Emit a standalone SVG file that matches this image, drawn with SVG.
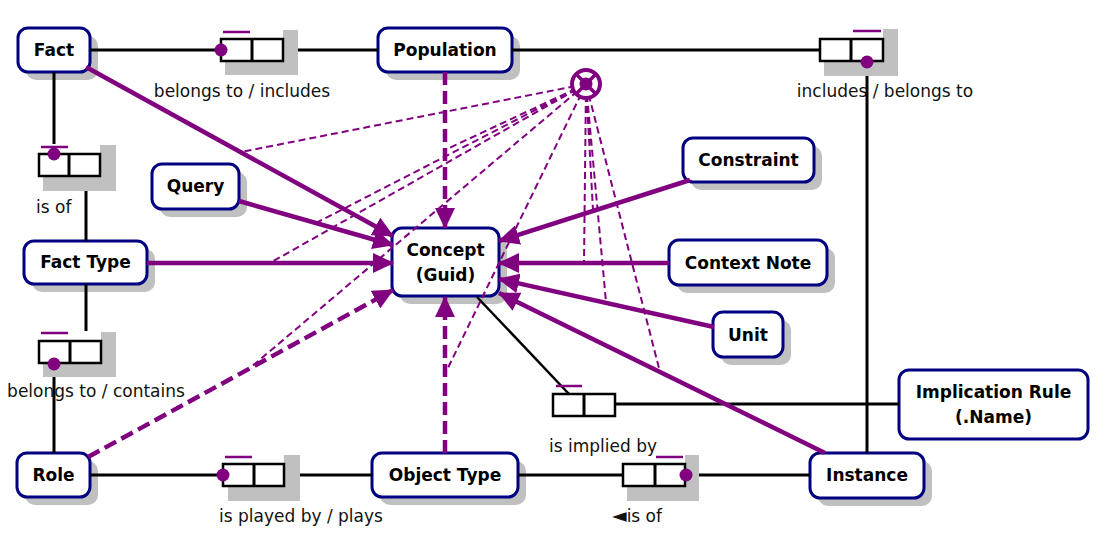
<svg xmlns="http://www.w3.org/2000/svg" width="1114" height="550" viewBox="0 0 1114 550">
<style>
.shadow{fill:#c0c0c0}
.cover{fill:#fff}
.node{fill:#fff;stroke:#000080;stroke-width:3}
.nt{font-family:"DejaVu Sans","Verdana",sans-serif;font-weight:bold;font-size:17px;fill:#000;text-anchor:middle}
.lbl{font-family:"DejaVu Sans","Verdana",sans-serif;font-size:17px;fill:#111}
.blk{stroke:#000;stroke-width:3;fill:none}
.sub{stroke:#800080;stroke-width:4.5;fill:none;marker-end:url(#arr)}
.subd{stroke:#800080;stroke-width:4.5;fill:none;stroke-dasharray:13 6;marker-end:url(#arr)}
.cl{stroke:#800080;stroke-width:2;fill:none;stroke-dasharray:7 4}
.rb{fill:#fff;stroke:#000;stroke-width:2.5}
.ub{stroke:#800080;stroke-width:2.5}
.dot{fill:#800080}
</style>
<defs>
<marker id="arr" markerUnits="userSpaceOnUse" markerWidth="22" markerHeight="20" refX="20" refY="10" orient="auto">
<path d="M0,0 L21,10 L0,20 z" fill="#800080"/>
</marker>
</defs>
<rect width="1114" height="550" fill="#fff"/>

<g id="fact"><rect class="shadow" x="26" y="36" width="72" height="44" rx="10"/><rect class="node" x="18" y="28" width="72" height="44" rx="10"/><text class="nt" x="54" y="56">Fact</text></g>
<g id="population"><rect class="shadow" x="386" y="36" width="134" height="44" rx="10"/><rect class="node" x="378" y="28" width="134" height="44" rx="10"/><text class="nt" x="445" y="56">Population</text></g>
<g id="query"><rect class="shadow" x="160" y="172" width="87" height="45" rx="10"/><rect class="node" x="152" y="164" width="87" height="45" rx="10"/><text class="nt" x="195.5" y="192">Query</text></g>
<g id="constraint"><rect class="shadow" x="691" y="146" width="131" height="44" rx="10"/><rect class="node" x="683" y="138" width="131" height="44" rx="10"/><text class="nt" x="748.5" y="166">Constraint</text></g>
<g id="fact-type"><rect class="shadow" x="32" y="249" width="123" height="43" rx="10"/><rect class="node" x="24" y="241" width="123" height="43" rx="10"/><text class="nt" x="85.5" y="268">Fact Type</text></g>
<g id="concept"><rect class="shadow" x="400" y="236" width="107" height="68" rx="10"/><rect class="node" x="392" y="228" width="107" height="68" rx="10"/><text class="nt" x="445.5" y="256">Concept</text><text class="nt" x="445.5" y="281">(Guid)</text></g>
<g id="context-note"><rect class="shadow" x="677" y="248" width="158" height="45" rx="10"/><rect class="node" x="669" y="240" width="158" height="45" rx="10"/><text class="nt" x="748" y="269">Context Note</text></g>
<g id="unit"><rect class="shadow" x="721" y="320" width="70" height="45" rx="10"/><rect class="node" x="713" y="312" width="70" height="45" rx="10"/><text class="nt" x="748" y="341">Unit</text></g>
<g id="implication-rule"><rect class="node" x="899" y="370" width="189" height="69" rx="10"/><text class="nt" x="993.5" y="398">Implication Rule</text><text class="nt" x="993.5" y="423">(.Name)</text></g>
<g id="role"><rect class="shadow" x="25" y="461" width="73" height="44" rx="10"/><rect class="node" x="17" y="453" width="73" height="44" rx="10"/><text class="nt" x="53.5" y="481">Role</text></g>
<g id="object-type"><rect class="shadow" x="380" y="461" width="146" height="44" rx="10"/><rect class="node" x="372" y="453" width="146" height="44" rx="10"/><text class="nt" x="445" y="481">Object Type</text></g>
<g id="instance"><rect class="shadow" x="818" y="461" width="114" height="45" rx="10"/><rect class="node" x="810" y="453" width="114" height="45" rx="10"/><text class="nt" x="867" y="481">Instance</text></g>

<g id="connectors">
<path class="blk" d="M90,50 H221 M283,50 H378 M512,50 H820 M867,62 V453 M54,72 V154 M86,176 V241 M86,284 V341 M54,364 V453 M90,475 H223 M284,475 H372 M518,475 H623 M686,475 H810 M615,404 H899"/>
<path d="M477,297 L569,394" stroke="#000" stroke-width="2.5" fill="none"/>
<path class="sub" d="M86,67 L393,236"/>
<path class="sub" d="M239,201 L393,245"/>
<path class="sub" d="M147,263 L393,263"/>
<path class="sub" d="M690,180 L499,241"/>
<path class="sub" d="M669,263 L499,263"/>
<path class="sub" d="M714,327 L499,279"/>
<path class="sub" d="M825,453 L499,293"/>
<path class="subd" d="M445,72 L445,228"/>
<path class="subd" d="M445,453 L445,297"/>
<path class="subd" d="M88,457 L393,290"/>
<path class="cl" d="M586,84 L241,152 M586,84 L316,223 M586,84 L270,263 M586,84 L445,150 M586,84 L250,368 M586,84 L446,372 M586,84 L593,210 M586,84 L584,263 M586,84 L606,302 M586,84 L660,372"/>
</g>

<g id="xor-constraint">
<circle cx="586" cy="84" r="14" fill="#fff" stroke="#800080" stroke-width="4"/>
<path d="M577,75 L595,93 M595,75 L577,93" stroke="#800080" stroke-width="3.5"/>
<circle cx="586" cy="84" r="6.5" fill="#800080"/>
</g>

<g id="ft-fact-population">
<rect class="shadow" x="225" y="30" width="73" height="45"/><rect class="cover" x="221" y="29" width="62" height="10"/>
<rect class="rb" x="221" y="39" width="62" height="22"/><path class="blk" d="M252,39 V61" stroke-width="2.5"/>
<path class="ub" d="M223,32 H250"/><circle class="dot" cx="221" cy="50" r="6.5"/>
<text class="lbl" x="242" y="97" text-anchor="middle">belongs to / includes</text>
</g>
<g id="ft-population-instance">
<rect class="shadow" x="824" y="29" width="74" height="47"/><rect class="cover" x="820" y="28" width="63" height="11"/>
<rect class="rb" x="820" y="39" width="63" height="22"/><path class="blk" d="M851,39 V61" stroke-width="2.5"/>
<path class="ub" d="M853,31 H881"/><circle class="dot" cx="867" cy="62" r="6.5"/>
<text class="lbl" x="885" y="97" text-anchor="middle">includes / belongs to</text>
</g>
<g id="ft-fact-facttype">
<rect class="shadow" x="43" y="145" width="73" height="46"/><rect class="cover" x="39" y="144" width="61" height="10"/>
<rect class="rb" x="39" y="154" width="61" height="22"/><path class="blk" d="M69,154 V176" stroke-width="2.5"/>
<path class="ub" d="M41,147 H68"/><circle class="dot" cx="54" cy="154" r="6.5"/>
<text class="lbl" x="36" y="213">is of</text>
</g>
<g id="ft-facttype-role">
<rect class="shadow" x="43" y="332" width="73" height="45"/><rect class="cover" x="39" y="331" width="62" height="10"/>
<rect class="rb" x="39" y="341" width="62" height="22"/><path class="blk" d="M70,341 V363" stroke-width="2.5"/>
<path class="ub" d="M41,333 H68"/><circle class="dot" cx="54" cy="364" r="6.5"/>
<text class="lbl" x="96" y="397" text-anchor="middle">belongs to / contains</text>
</g>
<g id="ft-role-objecttype">
<rect class="shadow" x="228" y="455" width="72" height="46"/><rect class="cover" x="223" y="454" width="61" height="10"/>
<rect class="rb" x="223" y="464" width="61" height="22"/><path class="blk" d="M254,464 V486" stroke-width="2.5"/>
<path class="ub" d="M225,457 H252"/><circle class="dot" cx="223" cy="475" r="6.5"/>
<text class="lbl" x="301" y="522" text-anchor="middle">is played by / plays</text>
</g>
<g id="ft-objecttype-instance">
<rect class="shadow" x="627" y="455" width="72" height="46"/><rect class="cover" x="623" y="454" width="62" height="10"/>
<rect class="rb" x="623" y="464" width="62" height="22"/><path class="blk" d="M655,464 V486" stroke-width="2.5"/>
<path class="ub" d="M656,457 H683"/><circle class="dot" cx="686" cy="475" r="6.5"/>
<text class="lbl" x="612" y="522"><tspan font-size="19">◄</tspan>is of</text>
</g>
<g id="ft-concept-implicationrule">
<rect class="rb" x="553" y="394" width="62" height="22"/><path class="blk" d="M584,394 V416" stroke-width="2.5"/>
<path class="ub" d="M556,386 H582"/>
<text class="lbl" x="603" y="452" text-anchor="middle">is implied by</text>
</g>
</svg>
